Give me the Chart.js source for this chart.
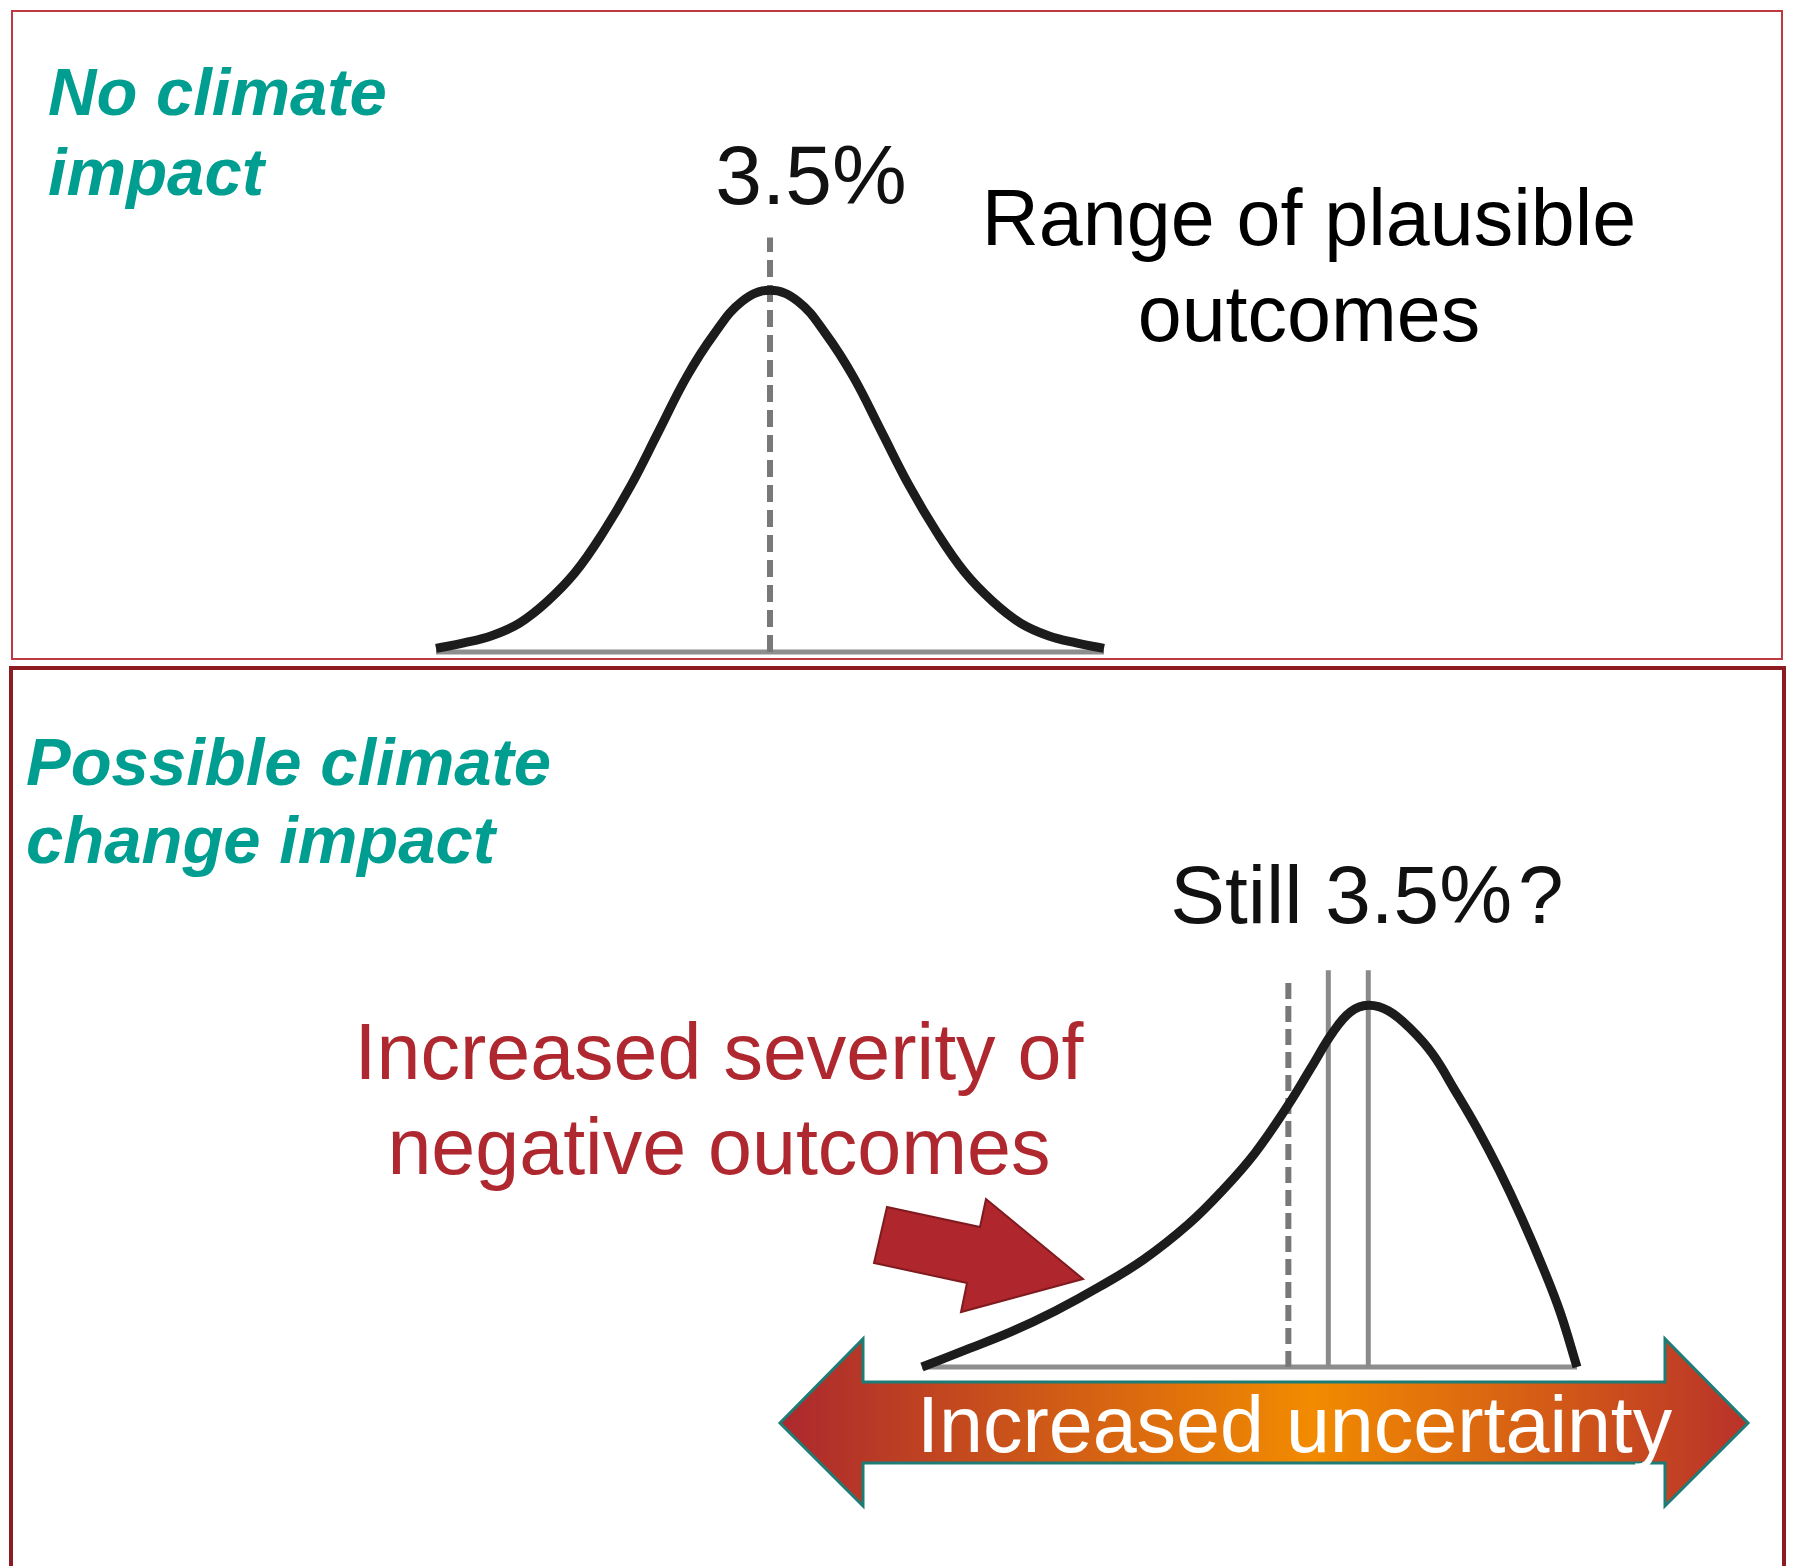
<!DOCTYPE html>
<html>
<head>
<meta charset="utf-8">
<script src="https://cdn.jsdelivr.net/npm/chart.js@4.4.0/dist/chart.umd.min.js"></script>
<style>
  html, body { margin: 0; padding: 0; background: #fff; }
  body { width: 1800px; height: 1566px; position: relative; overflow: hidden;
         font-family: "Liberation Sans", Arial, sans-serif; }
  .frame { position: absolute; box-sizing: border-box; }
  #frameTop { left: 11px; top: 10px; width: 1772px; height: 650px; border: 2px solid #bf3a40; }
  #frameBottom { left: 9px; top: 666px; width: 1777px; height: 940px; border: 4px solid #8c1c22; }
  canvas { position: absolute; left: 0; }
  #topChart { top: 0; }
  #bottomChart { top: 662px; }
  .txt { position: absolute; white-space: nowrap; }
  .teal { color: #009e91; font-weight: bold; font-style: italic; font-size: 67px; }
</style>
</head>
<body>
<div class="frame" id="frameTop"></div>
<div class="frame" id="frameBottom"></div>
<canvas id="topChart" width="1800" height="662"></canvas>
<canvas id="bottomChart" width="1800" height="904"></canvas>

<div class="txt teal" style="left:48px; top:52px; line-height:80px;">No climate<br>impact</div>
<div class="txt teal" style="left:26px; top:723px; line-height:78px;">Possible climate<br>change impact</div>
<div class="txt" style="left:611px; width:400px; text-align:center; top:133px; font-size:84px; line-height:1; color:#111;">3.5%</div>
<div class="txt" style="left:909px; width:800px; text-align:center; top:170px; font-size:79px; line-height:96px; color:#000;">Range of plausible<br>outcomes</div>
<div class="txt" style="left:1117px; width:500px; text-align:center; top:854px; font-size:82px; line-height:1; color:#111;">Still 3.5%<span style="margin-left:6px">?</span></div>
<div class="txt" style="left:319px; width:800px; text-align:center; top:1004px; font-size:79px; line-height:95px; color:#b0282f;">Increased severity of<br>negative outcomes</div>
<div class="txt" style="left:917px; top:1385px; font-size:79px; line-height:1; color:#fff;">Increased uncertainty</div>

<script>
// Top panel: outcome distribution with no climate impact
const topX = [0.5, 0.75, 1, 1.25, 1.5, 1.75, 2, 2.25, 2.5, 2.75, 3, 3.25, 3.5,
              3.75, 4, 4.25, 4.5, 4.75, 5, 5.25, 5.5, 5.75, 6, 6.25, 6.5];
const topY = [0.01, 0.025, 0.045, 0.08, 0.14, 0.22, 0.33, 0.46, 0.61, 0.76, 0.88, 0.97, 1.00,
              0.97, 0.88, 0.76, 0.61, 0.46, 0.33, 0.22, 0.14, 0.08, 0.045, 0.025, 0.01];

// Bottom panel: skewed distribution with climate change impact
const bottomX = [0.2, 0.6, 1.0, 1.4, 1.8, 2.2, 2.6, 2.9, 3.2, 3.5, 3.7, 3.9, 4.06, 4.22,
                 4.4, 4.6, 4.8, 5.0, 5.2, 5.4, 5.6, 5.8, 5.95, 6.1];
const bottomY = [0.0, 0.048, 0.097, 0.155, 0.222, 0.298, 0.395, 0.486, 0.592, 0.725, 0.825,
                 0.925, 0.982, 1.0, 0.985, 0.935, 0.865, 0.765, 0.66, 0.543, 0.413, 0.27, 0.15, 0.0];

const meanReturn = 3.5;          // the 3.5% line
const newMarkers = [3.86, 4.22]; // solid lines in the lower panel

function pts(xs, ys) {
    return xs.map((x, i) => ({ x: x, y: ys[i] }));
}

function vline(x, h, color, width, dash, order) {
    return {
        data: [{ x: x, y: 0 }, { x: x, y: h }],
        borderColor: color,
        borderWidth: width,
        borderDash: dash,
        pointRadius: 0,
        clip: false,
        order: order
    };
}

function hline(x0, x1, order) {
    return {
        data: [{ x: x0, y: 0 }, { x: x1, y: 0 }],
        borderColor: '#8e8e8e',
        borderWidth: 5,
        pointRadius: 0,
        clip: false,
        order: order
    };
}

function curve(xs, ys) {
    return {
        data: pts(xs, ys),
        borderColor: '#1c1c1c',
        borderWidth: 9,
        borderCapStyle: 'butt',
        borderJoinStyle: 'round',
        tension: 0.4,
        pointRadius: 0,
        clip: false,
        order: 0
    };
}

function baseOptions(pad, xmin, xmax) {
    return {
        responsive: false,
        animation: false,
        events: [],
        layout: { padding: pad },
        scales: {
            x: { type: 'linear', min: xmin, max: xmax, display: false },
            y: { min: 0, max: 1.2, display: false }
        },
        plugins: { legend: { display: false }, tooltip: { enabled: false } }
    };
}

new Chart(document.getElementById('topChart'), {
    type: 'line',
    data: {
        datasets: [
            curve(topX, topY),
            vline(meanReturn, 1.146, '#787878', 6, [17, 8], 1),
            hline(topX[0], topX[topX.length - 1], 2)
        ]
    },
    options: baseOptions({ left: 436, right: 696, top: 218, bottom: 10 }, 0.5, 6.5)
});

// arrows drawn on the lower panel
const arrowPlugin = {
    id: 'arrows',
    afterDatasetsDraw(chart) {
        const ctx = chart.ctx;
        ctx.save();

        // double headed "Increased uncertainty" arrow
        const g = ctx.createLinearGradient(780, 0, 1748, 0);
        g.addColorStop(0, '#ac282e');
        g.addColorStop(0.55, '#f28b00');
        g.addColorStop(1, '#b9322a');
        ctx.beginPath();
        ctx.moveTo(780, 761);
        ctx.lineTo(863, 677);
        ctx.lineTo(863, 720);
        ctx.lineTo(1665, 720);
        ctx.lineTo(1665, 677);
        ctx.lineTo(1748, 761);
        ctx.lineTo(1665, 844);
        ctx.lineTo(1665, 801);
        ctx.lineTo(863, 801);
        ctx.lineTo(863, 844);
        ctx.closePath();
        ctx.fillStyle = g;
        ctx.fill();
        ctx.lineWidth = 3;
        ctx.strokeStyle = '#1d7d76';
        ctx.stroke();

        // red pointer to the left tail
        ctx.beginPath();
        ctx.moveTo(887, 545);
        ctx.lineTo(980, 565);
        ctx.lineTo(986, 537);
        ctx.lineTo(1083, 617);
        ctx.lineTo(961, 650);
        ctx.lineTo(967, 621);
        ctx.lineTo(874, 601);
        ctx.closePath();
        ctx.fillStyle = '#b0262d';
        ctx.fill();
        ctx.lineWidth = 2;
        ctx.strokeStyle = '#7f1a1e';
        ctx.stroke();

        ctx.restore();
    }
};

new Chart(document.getElementById('bottomChart'), {
    type: 'line',
    data: {
        datasets: [
            curve(bottomX, bottomY),
            vline(meanReturn, 1.075, '#787878', 6, [16, 7], 1),
            vline(newMarkers[0], 1.097, '#8a8a8a', 5, [], 1),
            vline(newMarkers[1], 1.097, '#8a8a8a', 5, [], 1),
            hline(bottomX[0], bottomX[bottomX.length - 1], 2)
        ]
    },
    options: baseOptions({ left: 922, right: 223, top: 271, bottom: 199 }, 0.2, 6.1),
    plugins: [arrowPlugin]
});
</script>
</body>
</html>
